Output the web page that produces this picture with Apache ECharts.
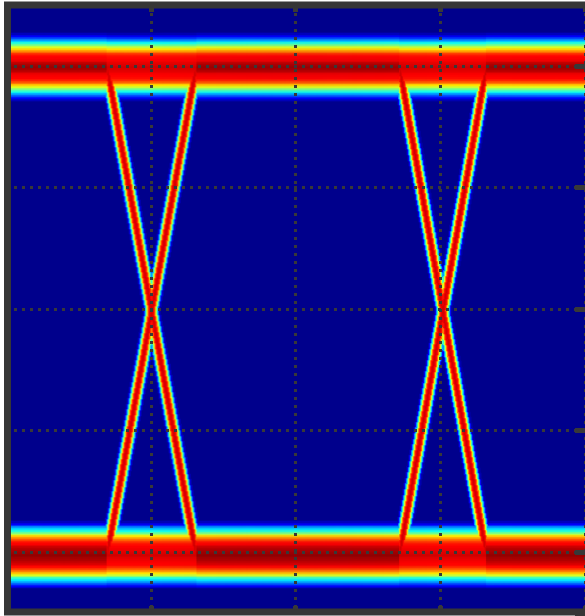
<!DOCTYPE html>
<html>
<head>
<meta charset="utf-8">
<script src="https://cdn.jsdelivr.net/npm/echarts@6/dist/echarts.min.js"></script>
<style>
  html, body { margin: 0; padding: 0; background: #ffffff; }
  #chart { width: 585px; height: 616px; }
</style>
</head>
<body>
<div id="chart"></div>
<script>
// Eye diagram: density of a two-level signal, shown with a jet colour scale.

// Screen span: 4 unit intervals across, ±0.5 V vertically.
const timeRange = [0, 4];
const voltRange = [-0.5, 0.5];

// Centre voltage of the high and low logic levels.
const levelHigh = 0.398;
const levelLow = -0.404;

// Each edge pair: time at which the traces leave one level and reach the other.
const transitions = [[0.70, 1.315], [2.72, 3.32]];

// Density across a level band, sampled every bandStep volts from its centre.
const bandStep = 0.003;
const highBandProfile = [0.97, 0.96, 0.94, 0.91, 0.89, 0.88, 0.87, 0.84, 0.79, 0.74,
                         0.67, 0.59, 0.50, 0.42, 0.35, 0.28, 0.20, 0.12, 0.06, 0.02];
const lowBandProfile  = [0.98, 0.97, 0.96, 0.95, 0.93, 0.91, 0.88, 0.86, 0.81, 0.75,
                         0.68, 0.59, 0.50, 0.42, 0.35, 0.28, 0.20, 0.12, 0.06, 0.02];
// Same band while half the traces are switching.
const splitBandProfile = [0.92, 0.91, 0.90, 0.89, 0.88, 0.87, 0.86, 0.83, 0.78, 0.72,
                          0.65, 0.57, 0.48, 0.40, 0.33, 0.26, 0.18, 0.11, 0.05, 0.02];

// Density across a switching trace, sampled every traceStep unit intervals.
const traceStep = 0.007;
const traceProfile = [0.92, 0.90, 0.86, 0.76, 0.60, 0.44, 0.28, 0.12, 0.04];

// Jet colour scale, low to high.
const jetColors = ['#000080', '#0000ff', '#0080ff', '#00ffff', '#80ff80',
                   '#ffff00', '#ff8000', '#ff0000', '#800000'];
const floorColor = '#00008c';

// Histogram resolution (one bin per screen pixel).
const binsX = 580;
const binsY = 608;

function lookup(profile, step, d) {
  const i = Math.round(Math.abs(d) / step);
  return i < profile.length ? profile[i] : 0;
}

function density(t, v) {
  let switching = false;
  for (const [t0, t1] of transitions) {
    if (t >= t0 && t <= t1) switching = true;
  }
  let val = Math.max(
    lookup(switching ? splitBandProfile : highBandProfile, bandStep, v - levelHigh),
    lookup(switching ? splitBandProfile : lowBandProfile, bandStep, v - levelLow)
  );
  if (v <= levelHigh && v >= levelLow) {
    const frac = (v - levelLow) / (levelHigh - levelLow);
    for (const [t0, t1] of transitions) {
      const rise = t0 + frac * (t1 - t0);
      const fall = t0 + (1 - frac) * (t1 - t0);
      val = Math.max(val,
        lookup(traceProfile, traceStep, t - rise),
        lookup(traceProfile, traceStep, t - fall));
    }
  }
  return val;
}

const xCats = [];
const yCats = [];
for (let i = 0; i < binsX; i++) xCats.push(i);
for (let j = 0; j < binsY; j++) yCats.push(j);

const cells = [];
for (let j = 0; j < binsY; j++) {
  const v = voltRange[0] + (j + 0.5) / binsY * (voltRange[1] - voltRange[0]);
  for (let i = 0; i < binsX; i++) {
    const t = timeRange[0] + (i + 0.5) / binsX * (timeRange[1] - timeRange[0]);
    const d = density(t, v);
    if (d >= 0.04) cells.push([i, j, d]);
  }
}

const plotRect = { left: 6, top: 5, width: 580, height: 608 };
const gridStroke = '#383838';
const hidden = { show: false };
const noLine = { show: false, onZero: false };
const dotted = { show: true, lineStyle: { color: gridStroke, width: 3, type: [3, 5], cap: 'butt' } };

const chart = echarts.init(document.getElementById('chart'), null, { renderer: 'canvas' });
chart.setOption({
  animation: false,
  backgroundColor: '#ffffff',
  grid: [
    Object.assign({ show: true, backgroundColor: floorColor, borderWidth: 0 }, plotRect),
    Object.assign({ show: false }, plotRect)
  ],
  xAxis: [
    { type: 'category', gridIndex: 0, data: xCats, axisLine: noLine, axisTick: hidden,
      axisLabel: hidden, splitLine: hidden },
    { type: 'value', gridIndex: 1, position: 'bottom', min: timeRange[0], max: timeRange[1],
      interval: 1, z: 10, axisLine: noLine, axisLabel: hidden,
      axisTick: { show: true, inside: true, length: 7, lineStyle: { color: gridStroke, width: 5 } },
      splitLine: dotted },
    { type: 'value', gridIndex: 1, position: 'top', min: timeRange[0], max: timeRange[1],
      interval: 1, z: 10, axisLine: noLine, axisLabel: hidden,
      axisTick: { show: true, inside: true, length: 7, lineStyle: { color: gridStroke, width: 5 } },
      splitLine: hidden }
  ],
  yAxis: [
    { type: 'category', gridIndex: 0, data: yCats, axisLine: noLine, axisTick: hidden,
      axisLabel: hidden, splitLine: hidden },
    { type: 'value', gridIndex: 1, position: 'right', min: voltRange[0], max: voltRange[1],
      splitNumber: 5, z: 10, axisLine: noLine, axisLabel: hidden,
      axisTick: { show: true, inside: true, length: 10, lineStyle: { color: gridStroke, width: 5 } },
      splitLine: dotted }
  ],
  visualMap: {
    show: false, type: 'continuous', min: 0, max: 1, dimension: 2, seriesIndex: 0,
    inRange: { color: jetColors }
  },
  series: [
    {
      type: 'heatmap', xAxisIndex: 0, yAxisIndex: 0, data: cells,
      progressive: 0, animation: false, silent: true,
      itemStyle: { borderWidth: 0 },
      emphasis: { disabled: true }
    },
    {
      type: 'line', xAxisIndex: 1, yAxisIndex: 1, data: [], silent: true
    }
  ],
  graphic: [{
    type: 'rect', z: 100, silent: true,
    shape: { x: 7.5, y: 5, width: 600, height: 607 },
    style: { fill: null, stroke: '#363636', lineWidth: 7 }
  }]
});
</script>
</body>
</html>
